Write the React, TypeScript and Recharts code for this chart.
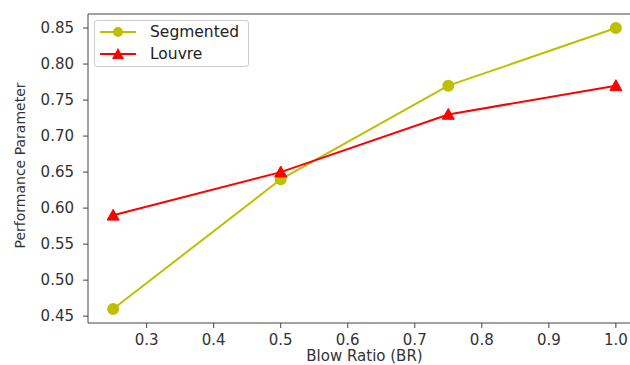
import React from "react";
import { LineChart, Line, XAxis, YAxis, ReferenceLine } from "recharts";

const blowRatio = [0.25, 0.5, 0.75, 1.0];
const segmented = [0.46, 0.64, 0.77, 0.85];
const louvre = [0.59, 0.65, 0.73, 0.77];
const xTicks = [0.3, 0.4, 0.5, 0.6, 0.7, 0.8, 0.9, 1.0];
const yTicks = [0.45, 0.5, 0.55, 0.6, 0.65, 0.7, 0.75, 0.8, 0.85];

const data = blowRatio.map((br, i) => ({ br, segmented: segmented[i], louvre: louvre[i] }));

const OLIVE = "#bfbf00";
const RED = "#ff0000";
const AXIS = "#444";
const FONT = "'DejaVu Sans', sans-serif";

const Triangle = (props: any) => {
  const { cx, cy } = props;
  if (cx == null || cy == null) return null;
  const r = 6;
  return (
    <path
      d={`M${cx},${cy - r} L${cx + r},${cy + r * 0.8} L${cx - r},${cy + r * 0.8} Z`}
      fill={RED}
      stroke={RED}
    />
  );
};

const legendItems = [
  { name: "Segmented", color: OLIVE, tri: false },
  { name: "Louvre", color: RED, tri: true },
];

// legend drawn as an overlay so it does not eat plot height
const LegendBox = () => (
  <div
    style={{
      position: "absolute",
      left: 94,
      top: 20,
      width: 155,
      height: 47,
      boxSizing: "border-box",
      border: "1px solid #ccc",
      borderRadius: 3,
      background: "#fff",
      padding: "0px 0px 0px 5px",
      fontFamily: FONT,
      fontSize: 15.5,
      color: "#222",
      lineHeight: "22px",
    }}
  >
    {legendItems.map((it) => (
      <div key={it.name} style={{ display: "flex", alignItems: "center" }}>
        <svg width={36} height={14} style={{ marginRight: 14 }}>
          <line x1={0} y1={7} x2={36} y2={7} stroke={it.color} strokeWidth={2} />
          {it.tri ? (
            <path d="M18,1 L24,12 L12,12 Z" fill={it.color} />
          ) : (
            <circle cx={18} cy={7} r={5} fill={it.color} />
          )}
        </svg>
        <span>{it.name}</span>
      </div>
    ))}
  </div>
);

export default function App() {
  return (
    <div style={{ position: "absolute", left: 0, top: 0, width: 630, height: 365, overflow: "hidden", background: "#fff" }}>
      <LineChart
        width={660}
        height={365}
        data={data}
        margin={{ top: 14, right: 19, bottom: 12, left: 18 }}
      >
        <XAxis
          dataKey="br"
          type="number"
          domain={[0.2125, 1.0375]}
          ticks={xTicks}
          allowDataOverflow
          tickFormatter={(v: number) => v.toFixed(1)}
          stroke={AXIS}
          tick={{ fill: "#333", fontSize: 15, fontFamily: FONT }}
          tickSize={5}
          tickMargin={6}
          height={30}
          label={{ value: "Blow Ratio (BR)", position: "insideBottom", offset: -8, fill: "#333", fontSize: 15, fontFamily: FONT }}
        />
        <YAxis
          type="number"
          domain={[0.4405, 0.8695]}
          ticks={yTicks}
          allowDataOverflow
          tickFormatter={(v: number) => v.toFixed(2)}
          stroke={AXIS}
          tick={{ fill: "#333", fontSize: 15, fontFamily: FONT }}
          tickSize={5}
          tickMargin={9}
          width={70}
          label={{ value: "Performance Parameter", angle: -90, position: "insideLeft", offset: 2, dy: 80, fill: "#333", fontSize: 14, fontFamily: FONT }}
        />
        <ReferenceLine y={0.8695} stroke={AXIS} strokeWidth={1} ifOverflow="extendDomain" />
        <Line
          dataKey="segmented"
          name="Segmented"
          stroke={OLIVE}
          strokeWidth={2}
          dot={{ r: 5, fill: OLIVE, stroke: OLIVE }}
          isAnimationActive={false}
        />
        <Line
          dataKey="louvre"
          name="Louvre"
          stroke={RED}
          strokeWidth={2}
          dot={<Triangle />}
          isAnimationActive={false}
        />
      </LineChart>
      <LegendBox />
    </div>
  );
}
